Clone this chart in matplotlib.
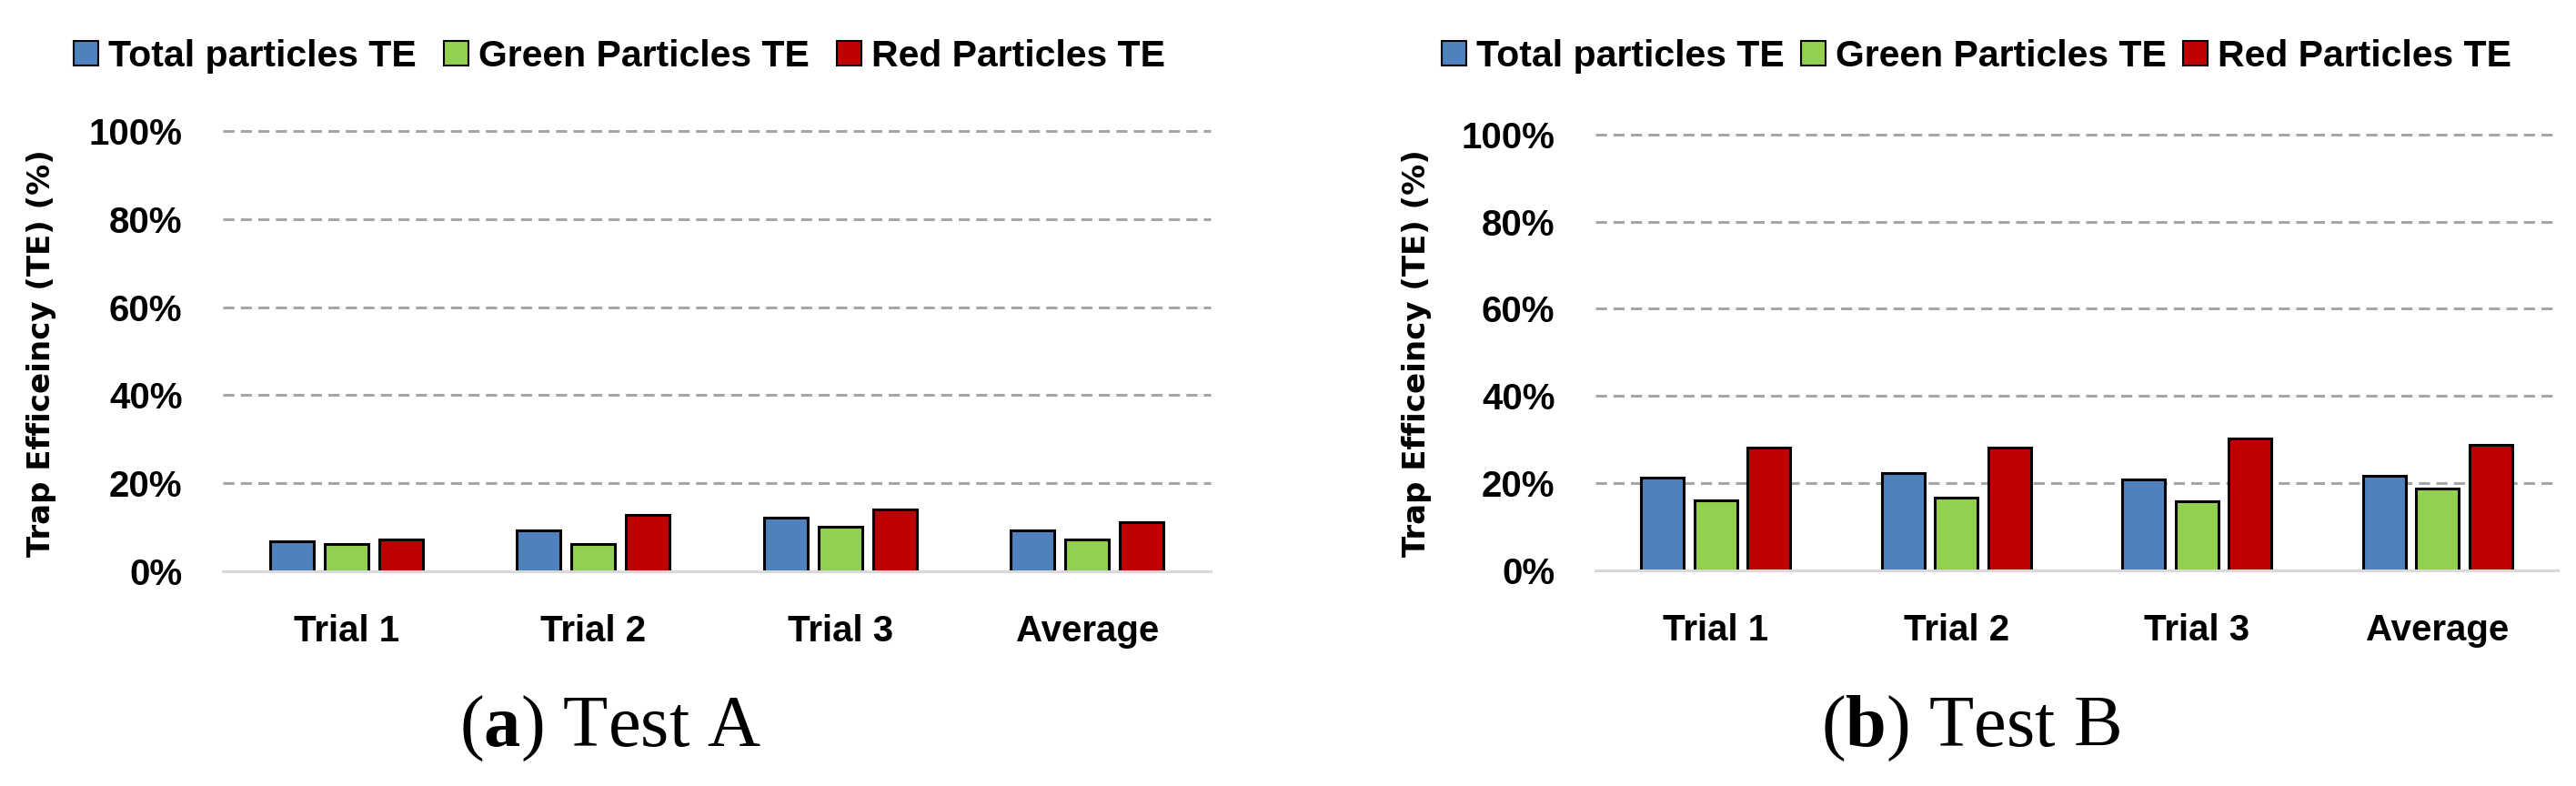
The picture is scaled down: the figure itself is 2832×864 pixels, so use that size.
import matplotlib
matplotlib.use("Agg")
import matplotlib.pyplot as plt
import numpy as np
from matplotlib.patches import Patch

categories = ["Trial 1", "Trial 2", "Trial 3", "Average"]
series_names = ["Total particles TE", "Green Particles TE", "Red Particles TE"]
colors = ["#4F81BD", "#92D050", "#C00000"]

testA_total = [6.8, 9.2, 12.1, 9.4]
testA_green = [6.2, 6.2, 10.1, 7.3]
testA_red = [7.3, 12.8, 14.0, 11.2]

testB_total = [21.2, 22.2, 20.8, 21.7]
testB_green = [16.0, 16.6, 15.7, 18.7]
testB_red = [28.2, 28.2, 30.1, 28.7]

yticks = [0, 20, 40, 60, 80, 100]
ytick_labels = ["0%", "20%", "40%", "60%", "80%", "100%"]
ylabel = "Trap Efficeincy (TE) (%)"
captions = [r"($\mathbf{a}$) Test A", r"($\mathbf{b}$) Test B"]

plt.rcParams["mathtext.fontset"] = "custom"
plt.rcParams["mathtext.rm"] = "Liberation Serif"
plt.rcParams["mathtext.bf"] = "Liberation Serif:bold"

W, H = 2832, 864
fig = plt.figure(figsize=(W / 100, H / 100), dpi=100)

TICKFONT = dict(family="Liberation Sans", weight="bold", size=29)

def make_panel(rect, data, legend_center, colspacing):
    ax = fig.add_axes(rect)
    x = np.arange(len(categories))
    width = 0.177
    pitch = 0.221
    for i, (vals, c, name) in enumerate(zip(data, colors, series_names)):
        ax.bar(x + (i - 1) * pitch, vals, width=width, color=c,
               edgecolor="black", linewidth=2.2, label=name, zorder=3)
    ax.set_xlim(-0.5, len(categories) - 0.5)
    ax.set_ylim(0, 100)
    ax.set_yticks(yticks)
    ax.set_yticklabels(ytick_labels, fontdict=TICKFONT)
    ax.set_xticks(x)
    ax.set_xticklabels(categories, fontdict=TICKFONT)
    for y in yticks[1:]:
        ax.axhline(y, color="#A6A6A6", linewidth=2.2, linestyle=(0, (4, 2.3)),
                   zorder=1, clip_on=False)
    for s in ["top", "right", "left"]:
        ax.spines[s].set_visible(False)
    ax.spines["bottom"].set_color("#D9D9D9")
    ax.spines["bottom"].set_linewidth(2.2)
    ax.spines["bottom"].set_zorder(4)
    ax.tick_params(axis="both", length=0)
    ax.tick_params(axis="y", pad=32)
    ax.tick_params(axis="x", pad=34)
    handles = [Patch(facecolor=c, edgecolor="black", linewidth=1.5) for c in colors]
    fig.legend(handles, series_names, loc="center",
               bbox_to_anchor=(legend_center[0] / W, 1 - legend_center[1] / H),
               ncol=3, frameon=False, prop=dict(family="Liberation Sans", weight="bold", size=29.5),
               handlelength=0.66, handleheight=0.66, handletextpad=0.27,
               columnspacing=colspacing, borderaxespad=0, borderpad=0)
    return ax

axA = make_panel([245 / W, 236 / H, 1086 / W, 484 / H],
                 [testA_total, testA_green, testA_red], (681, 62), 0.73)
axB = make_panel([1754 / W, 237.5 / H, 1058 / W, 478.5 / H],
                 [testB_total, testB_green, testB_red], (2173, 62), 0.44)

fig.text(46 / W, 1 - 388 / H, ylabel, rotation=90, ha="center", va="center",
         family="DejaVu Sans", weight="bold", size=24.5)
fig.text(1557 / W, 1 - 388 / H, ylabel, rotation=90, ha="center", va="center",
         family="DejaVu Sans", weight="bold", size=24.5)

fig.text(671 / W, 44 / H, captions[0], ha="center", va="baseline",
         family="Liberation Serif", size=58)
fig.text(2166 / W, 44 / H, captions[1], ha="center", va="baseline",
         family="Liberation Serif", size=58)

fig.savefig("out.png", dpi=100)
